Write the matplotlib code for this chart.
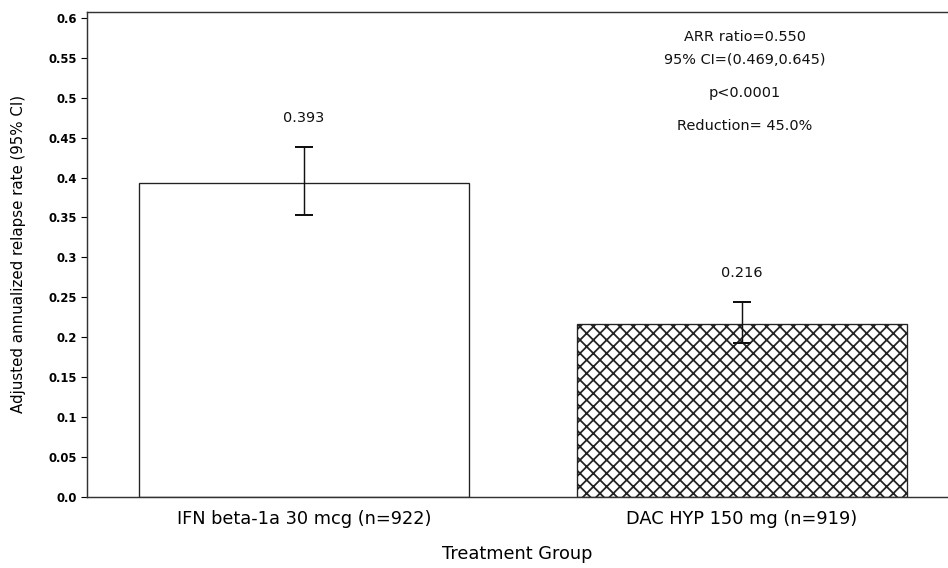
import matplotlib
matplotlib.use("Agg")
import matplotlib.pyplot as plt
from matplotlib.ticker import FixedLocator

categories = ["IFN beta-1a 30 mcg (n=922)", "DAC HYP 150 mg (n=919)"]
rates = [0.393, 0.216]
ci_lower = [0.353, 0.193]
ci_upper = [0.438, 0.244]
value_labels = ["0.393", "0.216"]
hatches = ["", "xx"]
y_ticks = [0.0, 0.05, 0.1, 0.15, 0.2, 0.25, 0.3, 0.35, 0.4, 0.45, 0.5, 0.55, 0.6]
y_tick_labels = ["0.0", "0.05", "0.1", "0.15", "0.2", "0.25", "0.3", "0.35", "0.4",
                 "0.45", "0.5", "0.55", "0.6"]
stats_lines = ["ARR ratio=0.550", "95% CI=(0.469,0.645)", "p<0.0001", "Reduction= 45.0%"]

DPI = 80
plt.rcParams["font.family"] = ["DejaVu Sans"]
plt.rcParams["hatch.linewidth"] = 1.6
plt.rcParams["hatch.color"] = "#222222"

fig = plt.figure(figsize=(948 / DPI, 568 / DPI), dpi=DPI)
W, H = 948, 568
ax = fig.add_axes([86.7 / W, 1 - 496.7 / H, (W - 86.7) / W, (496.7 - 12) / H])

x = list(range(len(categories)))
for i in x:
    ax.bar(i, rates[i], width=0.753, color="white", edgecolor="#222222",
           linewidth=1.2, hatch=hatches[i] if hatches[i] else None, zorder=2)

yerr = [[r - l for r, l in zip(rates, ci_lower)], [u - r for r, u in zip(rates, ci_upper)]]
ax.errorbar(x, rates, yerr=yerr, fmt="none", ecolor="#111111", elinewidth=1.3,
            capsize=8, capthick=1.8, zorder=3)

for i in x:
    ax.annotate(value_labels[i], xy=(i, ci_upper[i]), xytext=(0, 26),
                textcoords="offset points", ha="center", va="center",
                fontsize=13, color="#111111")

ax.set_xlim(-0.496, 1.470)
ax.set_ylim(0, 0.6075)
ax.yaxis.set_major_locator(FixedLocator(y_ticks))
ax.set_yticklabels(y_tick_labels, fontsize=10.5, fontweight="bold")
ax.set_xticks(x)
ax.set_xticklabels(categories, fontsize=16)
ax.tick_params(axis="x", length=0, pad=12)
ax.tick_params(axis="y", length=5, width=1, direction="out", pad=4)

ax.spines["right"].set_visible(False)
for s in ["top", "left", "bottom"]:
    ax.spines[s].set_linewidth(1.3)
    ax.spines[s].set_color("#333333")

ax.set_xlabel("Treatment Group", fontsize=16, labelpad=15)
ax.set_ylabel("Adjusted annualized relapse rate (95% CI)", fontsize=13.5, labelpad=20)

stat_y_px = [37, 60, 93, 126]
for txt, ypx in zip(stats_lines, stat_y_px):
    ax.text((745 - 86.7) / (W - 86.7), 1 - (ypx - 12) / (496.7 - 12), txt,
            transform=ax.transAxes, ha="center", va="center", fontsize=13, color="#111111")

fig.savefig("out.png", dpi=DPI)
